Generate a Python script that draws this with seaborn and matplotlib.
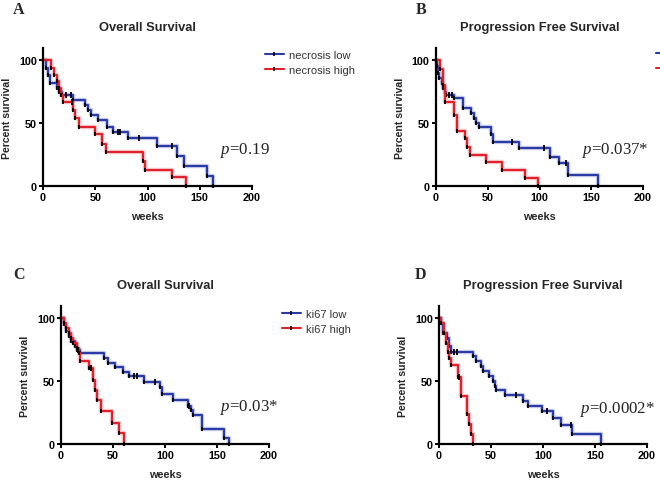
import numpy as np
import pandas as pd
import seaborn as sns
import matplotlib.pyplot as plt
from matplotlib.lines import Line2D

# step data: time (weeks) where survival drops, survival (%) after drop
# A - overall survival, necrosis
os_nec_low_t = [0, 3, 5, 7, 13, 15, 18, 29, 40, 43, 46, 53, 61, 67, 81, 109, 128, 135, 157, 163]
os_nec_low_s = [100, 94, 88, 82, 78, 75, 72, 68, 64, 60, 56, 52, 47, 43, 38, 32, 24, 16, 8, 0]
os_nec_low_cens = [22, 27, 72, 74, 92, 123]
os_nec_high_t = [0, 8, 10.5, 13, 15, 17.5, 19, 29, 31, 34.5, 50, 56, 60, 96, 98, 123, 137]
os_nec_high_s = [100, 94, 88, 83, 78, 72, 67, 60, 54, 47, 41, 33, 27, 20, 13, 7, 0]
os_nec_high_cens = [28]

# B - progression free survival, necrosis
pfs_nec_low_t = [0, 1, 2, 3, 5.5, 7, 9, 10, 17, 26.4, 34, 37, 39, 41.5, 53, 55, 80, 110, 119, 128, 156.6]
pfs_nec_low_s = [100, 95, 90, 86, 82, 78, 75, 72, 70, 62, 58, 54, 50, 47, 41, 35, 30, 23, 18, 9, 0]
pfs_nec_low_cens = [13, 15, 73, 104, 126]
pfs_nec_high_t = [0, 4, 7, 9, 17, 20, 28, 30, 33, 48, 64, 86, 99]
pfs_nec_high_s = [100, 93, 80, 67, 56, 44, 38, 31, 25, 19, 12.5, 6, 0]
pfs_nec_high_cens = []

# C - overall survival, ki67
os_ki_low_t = [0, 3, 5, 8, 10, 13, 15, 18, 41.5, 45, 52, 60, 65, 80, 95, 97.5, 108, 122, 125, 127, 136, 156.5, 161.7]
os_ki_low_s = [100, 95, 90, 86, 82, 78, 75, 72, 68, 64, 61, 57, 54, 49, 45, 40, 35, 30, 27, 23, 12, 5, 0]
os_ki_low_cens = [16, 70, 73, 90, 123]
os_ki_high_t = [0, 3, 5, 8, 10, 12, 15, 17, 18.5, 27, 31, 33, 35, 38.5, 49.5, 56, 60.7]
os_ki_high_s = [100, 96, 92, 88, 84, 80, 76, 72, 66, 60, 51, 43, 35, 26, 17, 9, 0]
os_ki_high_cens = [29]

# D - progression free survival, ki67
pfs_ki_low_t = [0, 1.6, 4, 7.7, 9.6, 12, 33, 36, 40, 42, 48, 52, 53.5, 55, 63, 81, 85.6, 99, 110, 117.6, 128, 156]
pfs_ki_low_s = [100, 96, 88, 84, 78, 73, 70, 66, 62, 58, 54, 50, 46, 43, 39, 34, 30, 26, 21, 15, 8, 0]
pfs_ki_low_cens = [14, 17, 74, 104, 127]
pfs_ki_high_t = [0, 2, 4.5, 7, 8.3, 10, 12, 18, 21, 27, 28.8, 31, 33]
pfs_ki_high_s = [100, 96, 88, 80, 73, 68, 63, 53, 38, 24, 16, 8, 0]
pfs_ki_high_cens = [19]

panel_letters = ["A", "B", "C", "D"]
panel_titles = ["Overall Survival", "Progression Free Survival", "Overall Survival", "Progression Free Survival"]
p_labels = ["0.19", "0.037*", "0.03*", "0.0002*"]
# B's legend sits at the right edge and only its line stubs show; D's is off the figure
legend_labels = [["necrosis low", "necrosis high"], ["", ""],
                 ["ki67 low", "ki67 high"], None]

sns.set_style("ticks")
plt.rcParams["font.family"] = ["Liberation Sans", "DejaVu Sans"]
plt.rcParams["mathtext.fontset"] = "custom"
plt.rcParams["mathtext.it"] = "Liberation Serif:italic"
plt.rcParams["mathtext.rm"] = "Liberation Serif"

BLUE = "#2a3aa6"
RED = "#e0202a"
W, H = 660, 489

fig = plt.figure(figsize=(6.6, 4.89), dpi=100)


def px_axes(x0, x1, ybot, ytop):
    return fig.add_axes([x0 / W, 1 - ybot / H, (x1 - x0) / W, (ybot - ytop) / H])


def step_value(t, s, c):
    i = np.searchsorted(t, c, side="right") - 1
    return s[i]


def km(ax, t, s, cens, color):
    df = pd.DataFrame({"weeks": t, "surv": s})
    # soft halo like the original
    sns.lineplot(data=df, x="weeks", y="surv", ax=ax, estimator=None, sort=False,
                 drawstyle="steps-post", color=color, alpha=0.25, lw=3.2, clip_on=False)
    sns.lineplot(data=df, x="weeks", y="surv", ax=ax, estimator=None, sort=False,
                 drawstyle="steps-post", color=color, lw=1.5, clip_on=False,
                 marker="|", markersize=3.5, markeredgewidth=1.3,
                 markeredgecolor="black", markerfacecolor="black")
    if len(cens):
        cy = [step_value(np.array(t), np.array(s), c) for c in cens]
        sns.scatterplot(x=cens, y=cy, ax=ax, marker="|", color="black", s=14,
                        linewidth=1.3, clip_on=False, zorder=5)


# pixel boxes: x0, x1, y(0), y(top)
boxes = [(43, 252, 187, 49), (436, 643, 187, 49), (61, 269, 445, 307), (439, 647, 445, 307)]
curves = [
    (os_nec_low_t, os_nec_low_s, os_nec_low_cens, os_nec_high_t, os_nec_high_s, os_nec_high_cens),
    (pfs_nec_low_t, pfs_nec_low_s, pfs_nec_low_cens, pfs_nec_high_t, pfs_nec_high_s, pfs_nec_high_cens),
    (os_ki_low_t, os_ki_low_s, os_ki_low_cens, os_ki_high_t, os_ki_high_s, os_ki_high_cens),
    (pfs_ki_low_t, pfs_ki_low_s, pfs_ki_low_cens, pfs_ki_high_t, pfs_ki_high_s, pfs_ki_high_cens),
]
letter_pos = [(19, 10), (421, 10), (19, 275), (420, 275)]
pval_pos = [(220, 150), (582, 150), (220, 408), (580, 410)]
legend_pos = [(265, 51), (656, 50), (282, 310), None]

for i, ax_box in enumerate(boxes):
    x0, x1, yb, yt = ax_box
    ax = px_axes(x0, x1, yb, yt)
    lt, ls, lc, ht, hs, hc = curves[i]
    km(ax, lt, ls, lc, BLUE)
    km(ax, ht, hs, hc, RED)

    ax.set_xlim(0, 200)
    ax.set_ylim(0, 100 * (yb - yt) / (yb - (yt + 12)))
    ax.set_xticks([0, 50, 100, 150, 200])
    ax.set_yticks([0, 50, 100])
    ax.set_xlabel("")
    ax.set_ylabel("")
    sns.despine(ax=ax)
    for sp in ["left", "bottom"]:
        ax.spines[sp].set_linewidth(1.6)
        ax.spines[sp].set_color("black")
    ax.tick_params(width=1.4, length=3, labelsize=7.8, pad=1.5, colors="black")
    for lab in ax.get_xticklabels() + ax.get_yticklabels():
        lab.set_fontweight("bold")

    cx = (x0 + x1) / 2
    fig.text(cx / W, 1 - (yt - 21) / H, panel_titles[i], ha="center", va="center",
             fontsize=9.3, fontweight="bold")
    fig.text(cx / W, 1 - (yb + 30) / H, "weeks", ha="center", va="center",
             fontsize=7.8, fontweight="bold")
    fig.text((x0 - 36) / W, 1 - ((yb + yt) / 2) / H, "Percent survival", rotation=90,
             ha="center", va="center", fontsize=7.6, fontweight="bold")
    lx, ly = letter_pos[i]
    fig.text(lx / W, 1 - ly / H, panel_letters[i], ha="center", va="center",
             fontsize=11.5, fontweight="bold", family="Liberation Serif")
    px_, py_ = pval_pos[i]
    fig.text(px_ / W, 1 - py_ / H, r"$p$=" + p_labels[i], ha="left", va="center",
             fontsize=12.2, family="Liberation Serif", color="#222222")

    if legend_labels[i] is None:
        continue
    handles = [Line2D([], [], color=BLUE, lw=1.5, marker="|", markersize=3.5,
                      markeredgecolor="black", markeredgewidth=1.2),
               Line2D([], [], color=RED, lw=1.5, marker="|", markersize=3.5,
                      markeredgecolor="black", markeredgewidth=1.2)]
    gx, gy = legend_pos[i]
    leg = ax.legend(handles, legend_labels[i], loc="upper left",
                    bbox_to_anchor=(gx / W, 1 - gy / H), bbox_transform=fig.transFigure,
                    frameon=False, fontsize=8, handlelength=1.7, handletextpad=0.45,
                    labelspacing=0.45, borderpad=0, borderaxespad=0, numpoints=1)
    for txt in leg.get_texts():
        txt.set_color("#333333")

fig.savefig("out.png", dpi=100)
